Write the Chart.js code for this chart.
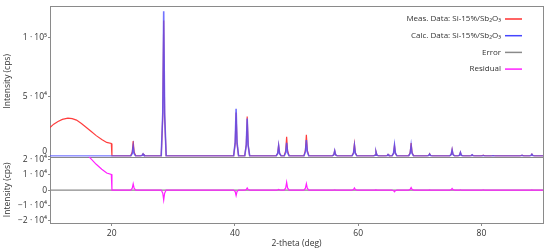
<!DOCTYPE html>
<html>
<head>
<meta charset="utf-8">
<script src="https://cdn.jsdelivr.net/npm/chart.js@4/dist/chart.umd.min.js"></script>
<style>
  html, body { margin: 0; padding: 0; background: #fff; }
</style>
</head>
<body>
<canvas id="xrdChart" width="550" height="252"></canvas>
<script>
const seriesNames = ['Meas. Data: Si-15%/Sb₂O₃', 'Calc. Data: Si-15%/Sb₂O₃', 'Error', 'Residual'];

// 2-theta positions (deg)
const twoTheta = [
  10, 10.6, 11.3, 12, 12.9, 13.6, 14.3, 15.1, 15.9, 16.7, 17.5, 18.4, 19.2, 19.95, 20.05,
  23.1, 23.35, 23.5, 23.65, 23.9,
  24.7, 24.95, 25.1, 25.25, 25.5,
  28.05, 28.3, 28.45, 28.6, 28.85,
  39.8, 40.05, 40.2, 40.35, 40.6,
  41.6, 41.85, 42, 42.15, 42.4,
  46.7, 46.95, 47.1, 47.25, 47.5,
  48, 48.25, 48.4, 48.55, 48.8,
  51.2, 51.45, 51.6, 51.75, 52,
  55.8, 56.05, 56.2, 56.35, 56.6,
  59, 59.25, 59.4, 59.55, 59.8,
  62.5, 62.75, 62.9, 63.05, 63.3,
  64.45, 64.7, 64.85, 65, 65.25,
  65.5, 65.75, 65.9, 66.05, 66.3,
  68.2, 68.45, 68.6, 68.75, 69,
  71.2, 71.45, 71.6, 71.75, 72,
  74.85, 75.1, 75.25, 75.4, 75.65,
  76.2, 76.45, 76.6, 76.75, 77,
  78.1, 78.35, 78.5, 78.65, 78.9,
  79.9, 80.15, 80.3, 80.45, 80.7,
  81.5, 81.75, 81.9, 82.05, 82.3,
  86.2, 86.45, 86.6, 86.75, 87,
  87.8, 88.05, 88.2, 88.35, 88.6,
  90
];

// measured intensity (cps)
const measData = [
  24400, 27200, 29400, 31200, 32200, 31800, 30600, 27800, 24400, 21000, 17600, 14400, 11900, 11000, 700,
  700, 3900, 13000, 3900, 700,
  700, 1100, 2300, 1100, 700,
  700, 34000, 114000, 34000, 700,
  700, 11100, 37000, 11100, 700,
  700, 10000, 33500, 10000, 700,
  700, 2900, 9500, 2900, 700,
  700, 5000, 16700, 5000, 700,
  700, 5500, 18300, 5500, 700,
  700, 1500, 5000, 1500, 700,
  700, 3200, 10600, 3200, 700,
  700, 1300, 4200, 1300, 700,
  700, 900, 1900, 900, 700,
  700, 2800, 9200, 2800, 700,
  700, 3400, 11300, 3400, 700,
  700, 1000, 2400, 1000, 700,
  700, 1800, 6000, 1800, 700,
  700, 1100, 3700, 1100, 700,
  700, 900, 1600, 900, 700,
  700, 800, 1200, 800, 700,
  700, 750, 900, 750, 700,
  700, 800, 1200, 800, 700,
  700, 1000, 2100, 1000, 700,
  700
];

// calculated intensity (cps)
const calcData = [
  600, 600, 600, 600, 600, 600, 600, 600, 600, 600, 600, 600, 600, 600, 600,
  600, 2600, 8800, 2600, 600,
  600, 1000, 2200, 1000, 600,
  600, 36500, 121600, 36500, 600,
  600, 12000, 40000, 12000, 600,
  600, 9600, 32000, 9600, 600,
  600, 2700, 9000, 2700, 600,
  600, 3500, 11500, 3500, 600,
  600, 4200, 14000, 4200, 600,
  600, 1500, 4900, 1500, 600,
  600, 2800, 9200, 2800, 600,
  600, 1200, 4000, 1200, 600,
  600, 800, 1800, 800, 600,
  600, 2900, 9600, 2900, 600,
  600, 2800, 9400, 2800, 600,
  600, 900, 2200, 900, 600,
  600, 1700, 5600, 1700, 600,
  600, 1100, 3500, 1100, 600,
  600, 800, 1500, 800, 600,
  600, 700, 900, 700, 600,
  600, 650, 800, 650, 600,
  600, 750, 1100, 750, 600,
  600, 900, 1900, 900, 600,
  600
];

// residual (cps)
const residData = [
  23800, 26600, 28800, 30600, 31600, 31200, 30000, 27200, 23800, 20400, 17000, 13800, 11300, 10400, 100,
  100, 1300, 4200, 1300, 100,
  100, 100, 100, 100, 100,
  100, -2000, -6500, -2000, 100,
  100, -900, -3500, -900, 100,
  100, 400, 1500, 400, 100,
  100, 200, 500, 200, 100,
  100, 1500, 5200, 1500, 100,
  100, 1300, 4300, 1300, 100,
  100, 100, 300, 100, 100,
  100, 500, 1500, 500, 100,
  100, 100, 300, 100, 100,
  100, 100, 100, 100, 100,
  100, -300, -1000, -300, 100,
  100, 600, 1800, 600, 100,
  100, 100, 200, 100, 100,
  100, 400, 1200, 400, 100,
  100, 100, 300, 100, 100,
  100, 100, 100, 100, 100,
  100, 100, 300, 100, 100,
  100, 100, 100, 100, 100,
  100, 100, 100, 100, 100,
  100, 100, 200, 100, 100,
  100
];

const errorTheta = [10, 90];
const errorData = [0, 0];

const xTicks = [20, 40, 60, 80];
const topTicks = [0, 50000, 100000];
const topTickLabels = ['0', '5 · 10⁴', '1 · 10⁵'];
const resTicks = [-20000, -10000, 0, 10000, 20000];
const resTickLabels = ['−2 · 10⁴', '−1 · 10⁴', '0', '1 · 10⁴', '2 · 10⁴'];

const FONT = "'Open Sans', Lato, sans-serif";
const TEXT = '#333';
const FRAME = '#8a8a8a';

function toPoints(xs, ys) {
  return xs.map((x, i) => ({ x: x, y: ys[i] }));
}

// box around each panel, and clip each dataset to its own panel
const framePlugin = {
  id: 'frame',
  beforeDatasetsDraw(chart) {
    const ctx = chart.ctx;
    const ca = chart.chartArea;
    ctx.save();
    ctx.strokeStyle = FRAME;
    ctx.lineWidth = 1;
    ['yInt', 'yRes'].forEach(id => {
      const s = chart.scales[id];
      ctx.strokeRect(Math.round(ca.left) + 0.5, Math.round(s.top) + 0.5,
        Math.round(ca.right - ca.left), Math.round(s.bottom - s.top));
    });
    ctx.restore();
  },
  beforeDatasetDraw(chart, args) {
    const ys = args.meta.yScale;
    const ca = chart.chartArea;
    const ctx = chart.ctx;
    ctx.save();
    ctx.beginPath();
    ctx.rect(ca.left, ys.top, ca.right - ca.left, ys.bottom - ys.top);
    ctx.clip();
  },
  afterDatasetDraw(chart) {
    chart.ctx.restore();
  }
};

// legend top right, line sample to the right of the text
const legendPlugin = {
  id: 'sideLegend',
  afterDraw(chart) {
    const ctx = chart.ctx;
    ctx.save();
    ctx.font = '8px ' + FONT;
    ctx.textAlign = 'right';
    ctx.textBaseline = 'middle';
    chart.data.datasets.forEach((ds, i) => {
      const y = 19 + i * 16.7;
      ctx.fillStyle = TEXT;
      ctx.fillText(ds.label, 501, y);
      ctx.strokeStyle = ds.legendColor;
      ctx.lineWidth = 1.5;
      ctx.beginPath();
      ctx.moveTo(505, y);
      ctx.lineTo(522, y);
      ctx.stroke();
    });
    ctx.restore();
  }
};

const ctx = document.getElementById('xrdChart').getContext('2d');
new Chart(ctx, {
  type: 'line',
  data: {
    datasets: [
      {
        label: seriesNames[0],
        data: toPoints(twoTheta, measData),
        yAxisID: 'yInt',
        borderColor: 'rgba(255, 40, 40, 0.9)',
        legendColor: '#ff3030',
        borderWidth: 1.2,
        order: 2
      },
      {
        label: seriesNames[1],
        data: toPoints(twoTheta, calcData),
        yAxisID: 'yInt',
        borderColor: 'rgba(80, 80, 255, 0.8)',
        legendColor: '#4646ff',
        borderWidth: 1.6,
        order: 1
      },
      {
        label: seriesNames[2],
        data: toPoints(errorTheta, errorData),
        yAxisID: 'yRes',
        borderColor: '#8a8a8a',
        legendColor: '#8a8a8a',
        borderWidth: 1.2,
        order: 3
      },
      {
        label: seriesNames[3],
        data: toPoints(twoTheta, residData),
        yAxisID: 'yRes',
        borderColor: '#ff20ff',
        legendColor: '#ff20ff',
        borderWidth: 1.2,
        order: 0
      }
    ]
  },
  options: {
    responsive: false,
    animation: false,
    devicePixelRatio: 1,
    layout: { padding: { top: 4, right: 7, left: 0, bottom: 0 } },
    elements: { point: { radius: 0 }, line: { tension: 0 } },
    plugins: {
      legend: { display: false },
      tooltip: { enabled: false }
    },
    scales: {
      x: {
        type: 'linear',
        min: 10,
        max: 90,
        afterBuildTicks: s => { s.ticks = xTicks.map(v => ({ value: v })); },
        afterFit: s => { s.height = 29; },
        ticks: { font: { family: FONT, size: 8.5 }, color: TEXT, padding: 2, maxRotation: 0 },
        grid: { drawOnChartArea: false, tickLength: 3, color: FRAME },
        border: { color: FRAME },
        title: { display: true, text: '2-theta (deg)', font: { family: FONT, size: 8.5 }, color: TEXT, padding: { top: 0, bottom: 3 } }
      },
      yInt: {
        type: 'linear',
        position: 'left',
        stack: 'xrd',
        stackWeight: 2.27,
        weight: 1,
        min: 0,
        max: 126000,
        afterBuildTicks: s => { s.ticks = topTicks.map(v => ({ value: v })); },
        afterFit: s => { s.width = 50; },
        ticks: {
          autoSkip: false,
          font: { family: FONT, size: 8.5 },
          color: TEXT,
          padding: 1,
          callback: v => {
            const lbl = topTickLabels[topTicks.indexOf(v)];
            return v === 0 ? [lbl, ''] : lbl;
          }
        },
        grid: { drawOnChartArea: false, tickLength: 2, color: FRAME },
        border: { color: FRAME },
        title: { display: true, text: 'Intensity (cps)', font: { family: FONT, size: 8.5 }, color: TEXT, padding: { top: 2, bottom: 0 } }
      },
      yRes: {
        type: 'linear',
        position: 'left',
        stack: 'xrd',
        stackWeight: 1,
        weight: 0,
        min: -21500,
        max: 22000,
        afterBuildTicks: s => { s.ticks = resTicks.map(v => ({ value: v })); },
        afterFit: s => { s.width = 50; },
        ticks: {
          autoSkip: false,
          font: { family: FONT, size: 8.5 },
          color: TEXT,
          padding: 1,
          callback: v => resTickLabels[resTicks.indexOf(v)]
        },
        grid: { drawOnChartArea: false, tickLength: 2, color: FRAME },
        border: { color: FRAME },
        title: { display: true, text: 'Intensity (cps)', font: { family: FONT, size: 8.5 }, color: TEXT, padding: { top: 2, bottom: 0 } }
      }
    }
  },
  plugins: [framePlugin, legendPlugin]
});
</script>
</body>
</html>
